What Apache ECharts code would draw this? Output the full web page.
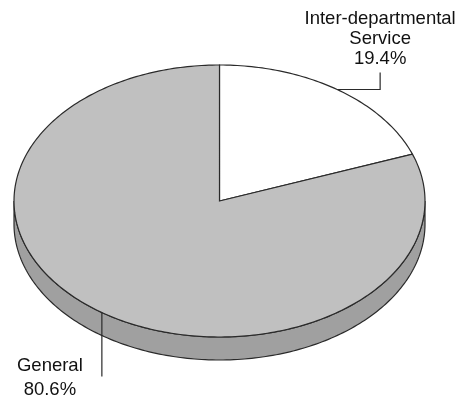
<!DOCTYPE html>
<html><head><meta charset="utf-8">
<script src="https://cdn.jsdelivr.net/npm/echarts@6/dist/echarts.min.js"></script>
<style>html,body{margin:0;padding:0;background:#fff}#c{width:463px;height:400px}</style>
</head><body><div id="c"></div>
<script>
const categories = ['Inter-departmental Service', 'General'];
const values = [19.4, 80.6];
const topColors = ['#ffffff', '#c0c0c0'];
const sideColors = ['#e6e6e6', '#a0a0a0'];

const CX = 219.5, CY = 201, RX = 205.5, RY = 136, DEPTH = 23;
const EDGE = '#2a2a2a';
const FONT = '18.5px "Liberation Sans", Arial, sans-serif';

function pt(deg, dy) {
  const r = deg * Math.PI / 180;
  return [CX + RX * Math.sin(r), CY - RY * Math.cos(r) + (dy || 0)];
}
function arc(a0, a1, dy) {
  const n = Math.max(2, Math.ceil(Math.abs(a1 - a0)));
  const out = [];
  for (let i = 0; i <= n; i++) out.push(pt(a0 + (a1 - a0) * i / n, dy));
  return out;
}

const total = values.reduce((a, b) => a + b, 0);

function renderItem(params, api) {
  const idx = params.dataIndex;
  let before = 0;
  for (let i = 0; i < idx; i++) before += values[i];
  const v = api.value(0);
  const a0 = before / total * 360;
  const a1 = (before + v) / total * 360;
  const children = [];
  // side (front half only)
  const lo = Math.max(a0, 90), hi = Math.min(a1, 270);
  if (lo < hi) {
    children.push({
      type: 'polygon', z2: 1,
      shape: { points: arc(lo, hi, 0).concat(arc(hi, lo, DEPTH)) },
      style: { fill: sideColors[idx], stroke: EDGE, lineWidth: 1.2 }
    });
  }
  // top face sector
  children.push({
    type: 'polygon', z2: 2,
    shape: { points: [[CX, CY]].concat(arc(a0, a1, 0)) },
    style: { fill: topColors[idx], stroke: EDGE, lineWidth: 1.2 }
  });
  // label
  const mid = (a0 + a1) / 2;
  const p = pt(mid, 0);
  const pct = (v / total * 100).toFixed(1) + '%';
  const name = categories[idx].length > 12 ? categories[idx].replace(' ', '\n') : categories[idx];
  if (Math.sin(mid * Math.PI / 180) > 0) {
    const ex = p[0] + 43;
    children.push({
      type: 'polyline', z2: 3,
      shape: { points: [p, [ex, p[1]], [ex, p[1] - 17]] },
      style: { stroke: EDGE, lineWidth: 1.2, fill: null }
    });
    children.push({
      type: 'text', z2: 3,
      style: { text: name + '\n' + pct, x: ex, y: p[1] - 21, align: 'center', verticalAlign: 'bottom',
               font: FONT, lineHeight: 20, fill: '#111' }
    });
  } else {
    children.push({
      type: 'polyline', z2: 3,
      shape: { points: [p, [p[0], p[1] + 64]] },
      style: { stroke: EDGE, lineWidth: 1.2, fill: null }
    });
    children.push({
      type: 'text', z2: 3,
      style: { text: name + '\n' + pct, x: p[0] - 52, y: p[1] + 65.5, align: 'center', verticalAlign: 'middle',
               font: FONT, lineHeight: 24, fill: '#111' }
    });
  }
  return { type: 'group', children };
}

const chart = echarts.init(document.getElementById('c'), null, { renderer: 'canvas' });
chart.setOption({
  backgroundColor: '#ffffff',
  animation: false,
  series: [{
    type: 'custom',
    coordinateSystem: 'none',
    data: values.map((v, i) => ({ name: categories[i], value: v })),
    renderItem: renderItem
  }]
});
</script>
</body></html>
